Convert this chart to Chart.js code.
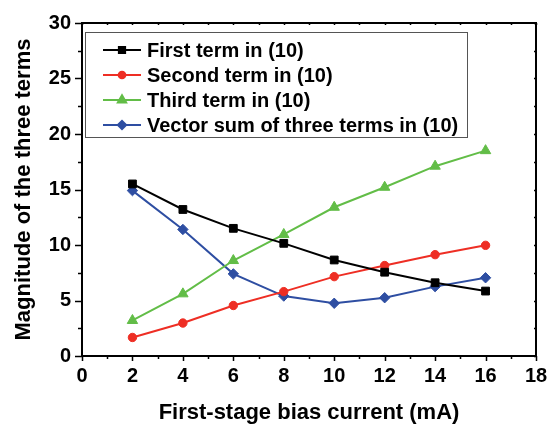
<!DOCTYPE html>
<html>
<head>
<meta charset="utf-8">
<script src="https://cdn.jsdelivr.net/npm/chart.js@4/dist/chart.umd.min.js"></script>
<style>
  html, body { margin: 0; padding: 0; background: #fff; }
  #wrap { width: 556px; height: 427px; }
</style>
</head>
<body>
<div id="wrap"><canvas id="chart" width="556" height="427"></canvas></div>
<script>
const biasCurrent = [2, 4, 6, 8, 10, 12, 14, 16];
const firstTerm = [15.5, 13.2, 11.5, 10.15, 8.65, 7.55, 6.6, 5.85];
const secondTerm = [1.67, 2.97, 4.55, 5.8, 7.15, 8.15, 9.13, 9.97];
const thirdTerm = [3.2, 5.6, 8.6, 10.95, 13.4, 15.2, 17.1, 18.5];
const vectorSum = [14.9, 11.4, 7.4, 5.4, 4.75, 5.25, 6.25, 7.05];
const seriesNames = ['First term in (10)', 'Second term in (10)', 'Third term in (10)', 'Vector sum of three terms in (10)'];

const FONT = 'Liberation Sans, Arial, Helvetica, sans-serif';

const toPoints = vals => vals.map((v, i) => ({ x: biasCurrent[i], y: v }));

function makeSet(label, vals, color, style, radius) {
    return {
        label, data: toPoints(vals),
        borderColor: color, backgroundColor: color,
        borderWidth: 2, pointStyle: style, pointRadius: radius, pointHoverRadius: radius,
        pointBorderWidth: 1, tension: 0
    };
}

// frame, ticks and legend drawn on top of the chart area
const framePlugin = {
    id: 'frame',
    afterDraw(chart) {
        const ctx = chart.ctx;
        const { left, right, top, bottom } = chart.chartArea;
        const xs = chart.scales.x, ys = chart.scales.y;
        ctx.save();
        ctx.strokeStyle = '#000';
        ctx.lineWidth = 2;
        ctx.strokeRect(left, top, right - left, bottom - top);

        ctx.lineWidth = 1.5;
        ctx.beginPath();
        for (let v = 0; v <= 18; v++) {
            const px = Math.round(xs.getPixelForValue(v)) + 0.5;
            const len = v % 2 === 0 ? 5 : 3;
            ctx.moveTo(px, bottom); ctx.lineTo(px, bottom + len);
            ctx.moveTo(px, top); ctx.lineTo(px, top + 2);
        }
        for (let v = 0; v <= 30; v += 2.5) {
            const py = Math.round(ys.getPixelForValue(v)) + 0.5;
            const len = v % 5 === 0 ? 7 : 4;
            ctx.moveTo(left, py); ctx.lineTo(left - len, py);
            ctx.moveTo(right, py); ctx.lineTo(right - 2, py);
        }
        ctx.stroke();

        // legend box
        const bx = 85, by = 32, bw = 382, bh = 105;
        ctx.fillStyle = '#fff';
        ctx.fillRect(bx, by, bw, bh);
        ctx.strokeStyle = '#555';
        ctx.lineWidth = 1;
        ctx.strokeRect(bx + 0.5, by + 0.5, bw, bh);

        ctx.font = 'bold 20px ' + FONT;
        ctx.textBaseline = 'middle';
        chart.data.datasets.forEach((ds, i) => {
            const y = by + 18 + i * 25;
            ctx.strokeStyle = ds.borderColor;
            ctx.lineWidth = 2;
            ctx.beginPath();
            ctx.moveTo(103, y); ctx.lineTo(141, y);
            ctx.stroke();
            ctx.fillStyle = ds.backgroundColor;
            ctx.strokeStyle = ds.borderColor;
            Chart.helpers.drawPoint(ctx, { pointStyle: ds.pointStyle, radius: ds.pointRadius * 0.8, borderWidth: 1 }, 122, y);
            ctx.fillStyle = '#000';
            ctx.fillText(ds.label, 147, y + 1);
        });
        ctx.restore();
    }
};

new Chart(document.getElementById('chart'), {
    type: 'line',
    data: {
        datasets: [
            makeSet(seriesNames[0], firstTerm, '#000000', 'rect', 5.5),
            makeSet(seriesNames[1], secondTerm, '#ee2e24', 'circle', 4.2),
            makeSet(seriesNames[2], thirdTerm, '#62bd47', 'triangle', 6),
            makeSet(seriesNames[3], vectorSum, '#2e4ea2', 'rectRot', 5.2)
        ]
    },
    options: {
        responsive: false,
        animation: false,
        layout: { padding: { top: 21, right: 20, left: 0, bottom: 0 } },
        plugins: { legend: { display: false }, tooltip: { enabled: false } },
        scales: {
            x: {
                type: 'linear', min: 0, max: 18,
                ticks: { stepSize: 2, color: '#000', padding: 8, font: { family: FONT, size: 20, weight: 'bold' } },
                grid: { display: false, drawTicks: false },
                border: { display: false },
                title: { display: true, text: 'First-stage bias current (mA)', color: '#000', padding: { top: 0, bottom: 1 }, font: { family: FONT, size: 22, weight: 'bold' } },
                afterFit: s => { s.height = 71; }
            },
            y: {
                type: 'linear', min: 0, max: 30,
                ticks: { stepSize: 5, color: '#000', padding: 11, font: { family: FONT, size: 20, weight: 'bold' } },
                grid: { display: false, drawTicks: false },
                border: { display: false },
                title: { display: true, text: 'Magnitude of the three terms', color: '#000', padding: { top: 11, bottom: 0 }, font: { family: FONT, size: 22, weight: 'bold' } },
                afterFit: s => { s.width = 82; }
            }
        }
    },
    plugins: [framePlugin]
});
</script>
</body>
</html>
